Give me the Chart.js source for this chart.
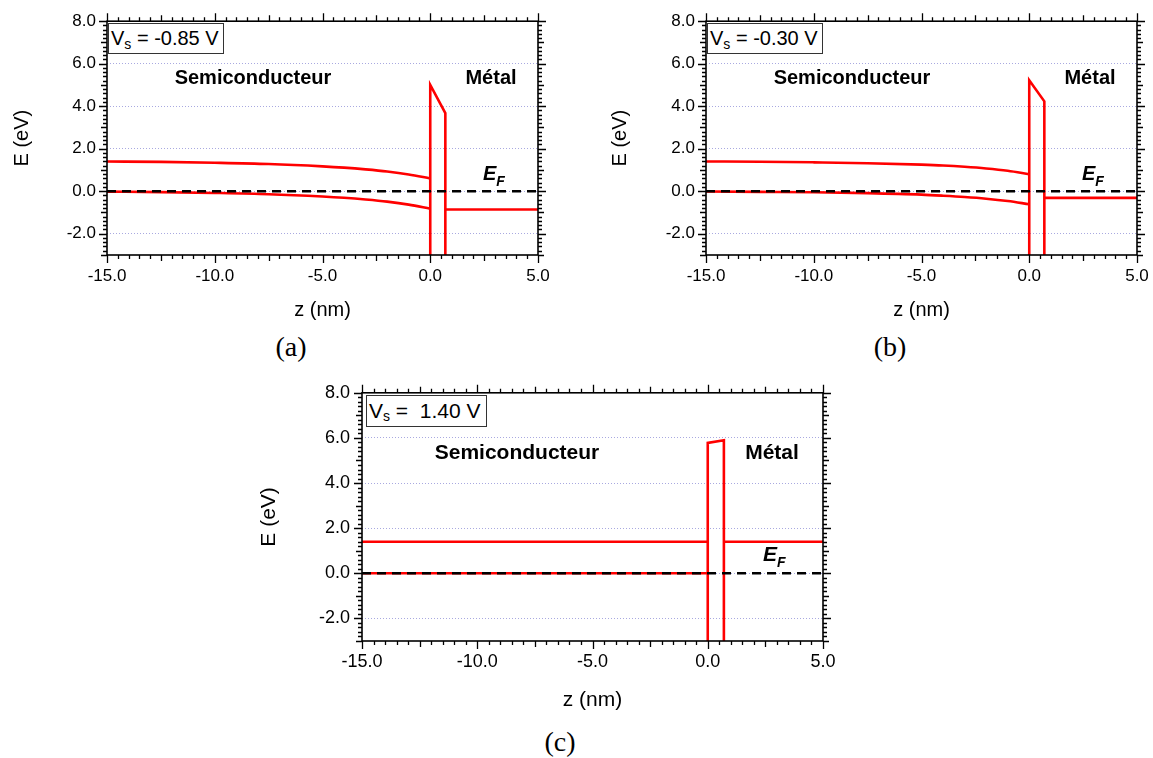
<!DOCTYPE html>
<html><head><meta charset="utf-8">
<script src="https://cdn.jsdelivr.net/npm/chart.js@4.4.1/dist/chart.umd.min.js"></script>
<style>
html,body{margin:0;padding:0;background:#fff;}
#wrap{position:relative;width:1153px;height:758px;overflow:hidden;font-family:'Liberation Sans',Arial,sans-serif;}
canvas{position:absolute;}
.ann{position:absolute;white-space:pre;color:#000;z-index:5;}
.reg{font-weight:bold;text-align:center;width:300px;}
.vs{border:1px solid #333;box-sizing:border-box;display:flex;align-items:center;padding-left:2px;background:#fff;}
.vs .s{font-size:14px;position:relative;top:5px;}
.ef{font-weight:bold;font-style:italic;}
.ef .f{font-size:14px;position:relative;top:6px;}
.cap{font-family:'Liberation Serif','Times New Roman',serif;text-align:center;width:100px;}
</style></head>
<body>
<div id="wrap">
  <canvas id="ca" width="570" height="330" style="left:0px;top:0px;width:570px;height:330px"></canvas>
  <canvas id="cb" width="590" height="330" style="left:600px;top:0px;width:590px;height:330px"></canvas>
  <canvas id="cc" width="620" height="350" style="left:250px;top:370px;width:620px;height:350px"></canvas>

  <div class="ann vs" style="left:108px;top:23px;width:116px;height:31px;font-size:20px;">V<span class="s">s</span> = -0.85 V</div>
  <div class="ann reg" style="left:103px;top:67px;font-size:20px;line-height:20px;">Semiconducteur</div>
  <div class="ann reg" style="left:341px;top:67px;font-size:20px;line-height:20px;">Métal</div>
  <div class="ann ef" style="left:483px;top:163px;font-size:20px;line-height:20px;">E<span class="f">F</span></div>

  <div class="ann vs" style="left:707px;top:23px;width:116px;height:31px;font-size:20px;">V<span class="s">s</span> = -0.30 V</div>
  <div class="ann reg" style="left:702px;top:67px;font-size:20px;line-height:20px;">Semiconducteur</div>
  <div class="ann reg" style="left:940px;top:67px;font-size:20px;line-height:20px;">Métal</div>
  <div class="ann ef" style="left:1082px;top:163px;font-size:20px;line-height:20px;">E<span class="f">F</span></div>

  <div class="ann vs" style="left:366px;top:395px;width:121px;height:32px;font-size:21px;">V<span class="s">s</span> =  1.40 V</div>
  <div class="ann reg" style="left:367px;top:441px;font-size:21px;line-height:21px;">Semiconducteur</div>
  <div class="ann reg" style="left:622px;top:441px;font-size:21px;line-height:21px;">Métal</div>
  <div class="ann ef" style="left:763px;top:543px;font-size:21px;line-height:21px;">E<span class="f">F</span></div>

  <div class="ann cap" style="left:241px;top:333px;font-size:28px;line-height:28px;">(a)</div>
  <div class="ann cap" style="left:840px;top:333px;font-size:28px;line-height:28px;">(b)</div>
  <div class="ann cap" style="left:510px;top:728px;font-size:28px;line-height:28px;">(c)</div>
</div>
<script>
// ---------------- data ----------------
const zBand = [-15, -12.5, -10, -7.5, -5, -4, -3, -2, -1, 0];
const ecA = [1.40, 1.38, 1.34, 1.28, 1.17, 1.11, 1.03, 0.93, 0.79, 0.60];
const evA = [-0.02, -0.04, -0.08, -0.14, -0.25, -0.31, -0.39, -0.49, -0.63, -0.82];
const ecB = [1.40, 1.39, 1.36, 1.32, 1.25, 1.21, 1.15, 1.07, 0.96, 0.80];
const evB = [-0.01, -0.03, -0.05, -0.09, -0.16, -0.21, -0.27, -0.35, -0.46, -0.61];
const ecC = [1.40, 1.40, 1.40, 1.40, 1.40, 1.40, 1.40, 1.40, 1.40, 1.40];
const evC = [0.00, 0.00, 0.00, 0.00, 0.00, 0.00, 0.00, 0.00, 0.00, 0.00];

const zBarrier = [0, 0, 0.7, 0.7];
const barrierA = [-3, 5.00, 3.68, -3];
const barrierB = [-3, 5.22, 4.23, -3];
const barrierC = [-3, 5.78, 5.90, -3];

const zMetal = [0.7, 5];
const metalA = [-0.86, -0.86];
const metalB = [-0.31, -0.31];
const metalC = [1.40, 1.40];

const zFermi = [-15, 5];
const fermiLevel = [0, 0];

const xTickValues = [-15, -10, -5, 0, 5];
const yTickValues = [-2, 0, 2, 4, 6, 8];
const xTitle = 'z (nm)';
const yTitle = 'E (eV)';

// ---------------- helpers ----------------
const FONT = "'Liberation Sans', Arial, sans-serif";
const pts = (xs, ys) => xs.map((x, i) => ({x: x, y: ys[i]}));

const frameTicks = {
  id: 'frameTicks',
  afterDraw(chart) {
    const {ctx, chartArea, scales} = chart;
    const {left, right, top, bottom} = chartArea;
    const x = scales.x, y = scales.y;
    ctx.save();
    ctx.strokeStyle = '#000';
    ctx.lineWidth = 1.3;
    ctx.beginPath();
    for (let i = 0; i <= 40; i++) {
      const v = x.min + i * 0.5;
      const p = Math.round(x.getPixelForValue(v)) + 0.5;
      const len = (i % 10 === 0) ? 8 : (i % 5 === 0) ? 6 : 4;
      ctx.moveTo(p, bottom); ctx.lineTo(p, bottom + len);
      ctx.moveTo(p, top); ctx.lineTo(p, top - len);
    }
    for (let i = 0; i <= 55; i++) {
      const v = y.min + i * 0.2;
      const p = Math.round(y.getPixelForValue(v)) + 0.5;
      const t = Math.round(v * 10);
      const len = (t % 20 === 0) ? 8 : (t % 10 === 0) ? 6 : 4;
      ctx.moveTo(left, p); ctx.lineTo(left - len, p);
      ctx.moveTo(right, p); ctx.lineTo(right + len, p);
    }
    ctx.stroke();
    ctx.lineWidth = 1.6;
    ctx.strokeRect(left, top, right - left, bottom - top);
    ctx.restore();
  }
};

function makeChart(id, d, L) {
  const red = '#ff0000';
  const line = (data, extra) => Object.assign({
    data: data, showLine: true, borderColor: red, borderWidth: 2.6,
    pointRadius: 0, fill: false, order: 1
  }, extra || {});
  return new Chart(document.getElementById(id), {
    type: 'scatter',
    data: {
      datasets: [
        line(pts(zFermi, fermiLevel), {borderColor: '#000', borderDash: [9, 6], borderWidth: 2.6, order: 0}),
        line(pts(zBand, d.ec), {cubicInterpolationMode: 'monotone'}),
        line(pts(zBand, d.ev), {cubicInterpolationMode: 'monotone'}),
        line(pts(zBarrier, d.barrier)),
        line(pts(zMetal, d.metal))
      ]
    },
    options: {
      responsive: false,
      animation: false,
      devicePixelRatio: 1,
      layout: {autoPadding: false, padding: {top: L.padTop, right: L.padRight, left: 0, bottom: 0}},
      plugins: {legend: {display: false}, tooltip: {enabled: false}},
      scales: {
        x: {
          type: 'linear', position: 'bottom', min: -15, max: 5,
          afterBuildTicks: s => { s.ticks = xTickValues.map(v => ({value: v})); },
          afterFit: s => { s.height = L.xH; },
          ticks: {
            autoSkip: false, maxRotation: 0, padding: L.xTickPad, color: '#000',
            font: {family: FONT, size: L.tickSize},
            callback: v => Number(v).toFixed(1)
          },
          grid: {display: false, drawTicks: false, tickLength: 0},
          border: {display: false},
          title: {display: true, text: xTitle, color: '#000',
                  font: {family: FONT, size: L.titleSize}, padding: {top: 0, bottom: L.xTitlePad}}
        },
        y: {
          type: 'linear', position: 'left', min: -3, max: 8,
          afterBuildTicks: s => { s.ticks = yTickValues.map(v => ({value: v})); },
          afterFit: s => { s.width = L.yW; },
          ticks: {
            autoSkip: false, padding: L.yTickPad, color: '#000',
            font: {family: FONT, size: L.tickSize},
            callback: v => Number(v).toFixed(1)
          },
          grid: {display: true, drawTicks: false, tickLength: 0, color: '#a9a9e0', lineWidth: 1,
                 borderDash: [1, 2]},
          border: {display: false, dash: [1, 2]},
          title: {display: true, text: yTitle, color: '#000',
                  font: {family: FONT, size: L.titleSize}, padding: {top: L.yTitlePad, bottom: 0}}
        }
      }
    },
    plugins: [frameTicks]
  });
}

makeChart('ca', {ec: ecA, ev: evA, barrier: barrierA, metal: metalA},
  {padTop: 17, padRight: 32, xH: 75, yW: 107, tickSize: 17, titleSize: 20,
   xTickPad: 11, yTickPad: 11, xTitlePad: 8, yTitlePad: 10});
makeChart('cb', {ec: ecB, ev: evB, barrier: barrierB, metal: metalB},
  {padTop: 17, padRight: 53, xH: 75, yW: 106, tickSize: 17, titleSize: 20,
   xTickPad: 11, yTickPad: 11, xTitlePad: 8, yTitlePad: 8});
makeChart('cc', {ec: ecC, ev: evC, barrier: barrierC, metal: metalC},
  {padTop: 18, padRight: 47, xH: 79, yW: 112, tickSize: 18, titleSize: 21,
   xTickPad: 10, yTickPad: 12, xTitlePad: 7, yTitlePad: 7});
</script>
</body></html>
